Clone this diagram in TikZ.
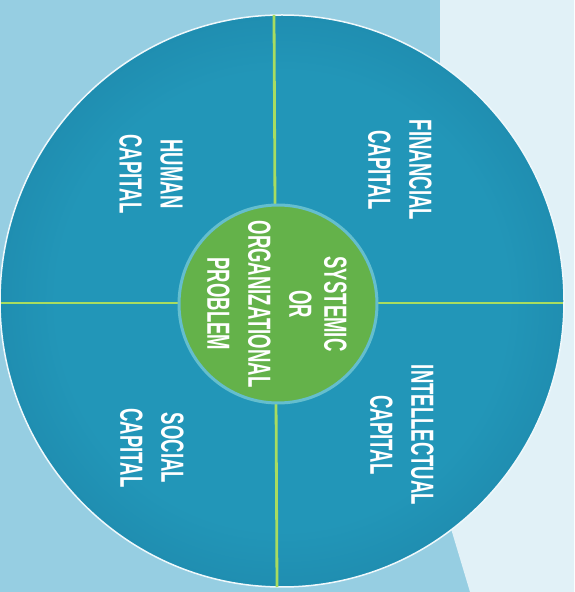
\documentclass[tikz,border=0pt]{standalone}
\usepackage{fontspec}
\usetikzlibrary{shapes.geometric}
\newfontfamily\capfont[FakeStretch=0.58]{Liberation Sans}

\definecolor{paper}{RGB}{150,206,226}
\definecolor{paperlight}{RGB}{225,241,247}
\definecolor{ringout}{RGB}{20,108,146}
\definecolor{ringin}{RGB}{34,150,184}
\definecolor{coreout}{RGB}{72,156,60}
\definecolor{corein}{RGB}{100,178,74}
\definecolor{spoke}{RGB}{168,220,96}
\definecolor{halo}{RGB}{100,190,206}

\pgfdeclareradialshading{wheelshade}{\pgfpoint{0bp}{0bp}}{color(0bp)=(ringin); color(20bp)=(ringin); color(46bp)=(ringout); color(50bp)=(ringout)}
\pgfdeclareradialshading{coreshade}{\pgfpoint{0bp}{0bp}}{color(0bp)=(corein); color(30bp)=(corein); color(50bp)=(coreout)}

\begin{document}
\begin{tikzpicture}[x=1pt,y=1pt,
    capital/.style={text=white,align=center,rotate=-90,
      font=\capfont\bfseries\fontsize{32}{41}\selectfont}]
        \useasboundingbox (0,0) rectangle (574,592);
        \fill[paper] (0,0) rectangle (574,592);
        \fill[paperlight] (440,592) -- (574,592) -- (574,0) -- (470,0) -- (440,100) -- cycle;

            \node[ellipse,minimum width=564pt,minimum height=572pt,shading=wheelshade,draw=white!85!paper,line width=1.5pt,inner sep=0pt] (wheel) at (282,291) {};

            \coordinate (top) at (274,577);
            \coordinate (bottom) at (277,5);
            \coordinate (left) at (1,289);
            \coordinate (right) at (563,289);

            \draw[spoke,line width=2.8pt] (top) -- (bottom);
            \draw[spoke,line width=2.8pt] (left) -- (right);

            \node[circle,minimum size=198pt,shading=coreshade,draw=halo,line width=3pt,inner sep=0pt] (core) at (278,288) {};

            \node[capital] (problem) at (277,288) {SYSTEMIC\\[-6pt]OR\\ORGANIZATIONAL\\PROBLEM};

            \node[capital] (financial) at (400,422) {FINANCIAL\\CAPITAL};
            \node[capital] (human) at (151,418) {HUMAN\\CAPITAL};
            \node[capital] (intellectual) at (402,157) {INTELLECTUAL\\CAPITAL};
            \node[capital] (social) at (152,144) {SOCIAL\\CAPITAL};
\end{tikzpicture}
\end{document}
